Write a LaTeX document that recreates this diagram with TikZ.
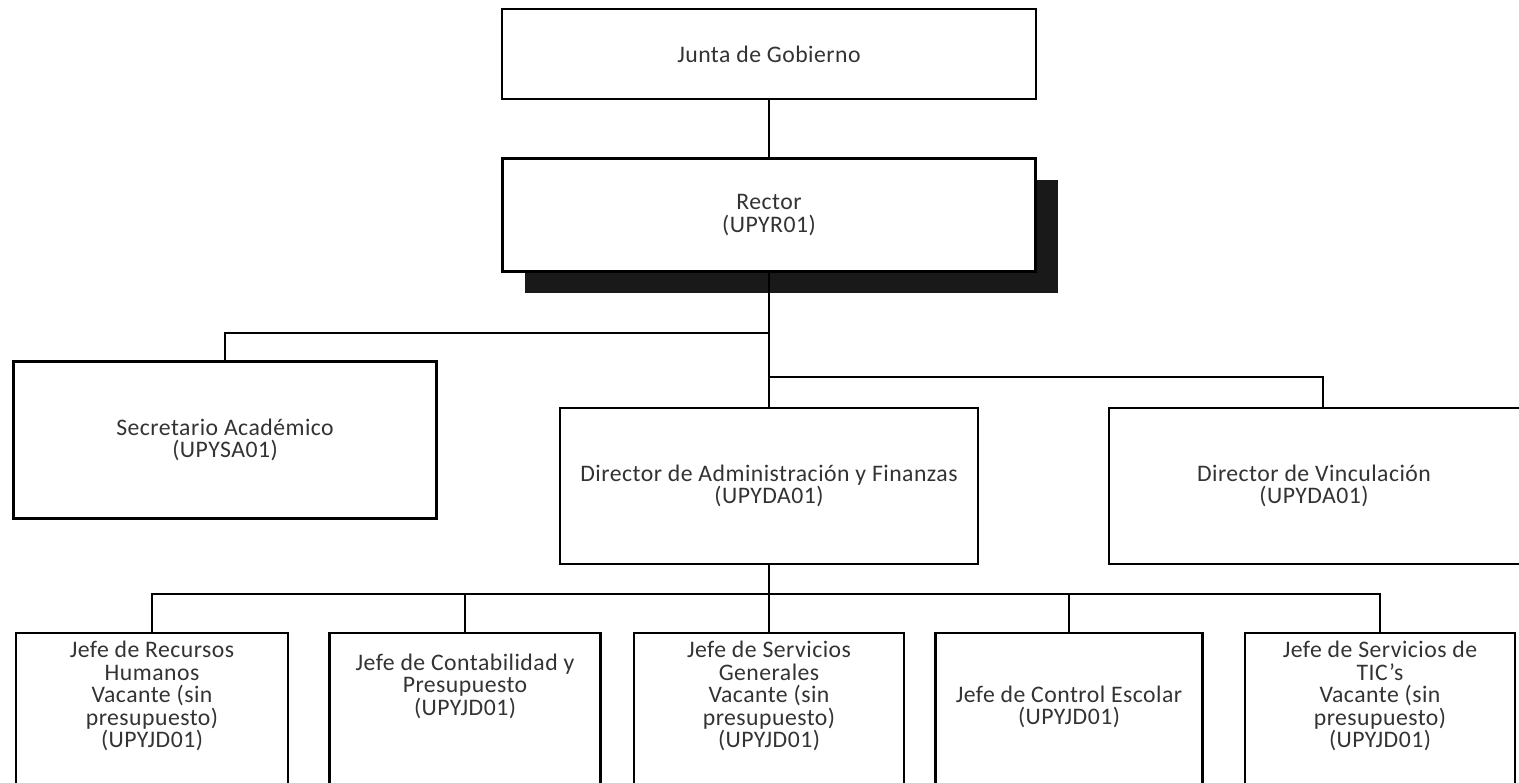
\documentclass[tikz,border=0pt]{standalone}
\usepackage{fontspec}
\setmainfont{Carlito}[LetterSpace=2]
\usetikzlibrary{positioning, shadows}

\tikzset{
	box/.style={draw, line width=1.3pt, fill=white, text=black!80, align=center, inner sep=0pt, font=\fontsize{13.5}{12.8}\selectfont},
	jefe/.style={box, minimum width=272*0.02cm, minimum height=170*0.02cm, anchor=north},
	txt/.style={text=black!80, align=center, inner sep=0pt, font=\fontsize{13.5}{12.8}\selectfont},
	wire/.style={line width=1.1pt}
}

\begin{document}
\begin{tikzpicture}[x=0.02cm, y=-0.02cm]
	\useasboundingbox (0,0) rectangle (1519,783);
	\clip (0,0) rectangle (1519,783);
	\node[box, minimum width=534*0.02cm, minimum height=90*0.02cm] (junta) at (769,54) {Junta de Gobierno};
	\node[box, minimum width=533*0.02cm, minimum height=113*0.02cm, drop shadow={shadow xshift=0.44cm, shadow yshift=-0.44cm, fill=black!90, opacity=1}] (rector) at (769,215) {Rector\\(UPYR01)};
	\node[box, minimum width=423*0.02cm, minimum height=157*0.02cm] (sec) at (225,440) {Secretario Académico\\(UPYSA01)};
	\node[box, minimum width=418*0.02cm, minimum height=156*0.02cm] (daf) at (769,486) {Director de Administración y Finanzas\\(UPYDA01)};
	\node[box, minimum width=428*0.02cm, minimum height=156*0.02cm] (vin) at (1323,486) {};
	\node[txt] (vintxt) at (1314,486) {Director de Vinculación\\(UPYDA01)};
	\coordinate (b1) at (769,333);
	\coordinate (b2) at (769,377);
	\coordinate (b3) at (769,594);
	\draw[wire] (junta) -- (rector);
	\draw[wire] (rector.south) -- (daf.north);
	\draw[wire] (b1) -| (sec.north);
	\draw[wire] (b2) -| (vin.north);
	% jefes
	\node[jefe] (rh) at (152,632) {};
	\node[txt] (rhtxt) at (152,696) {Jefe de Recursos\\Humanos\\Vacante (sin\\presupuesto)\\(UPYJD01)};
	\node[jefe, minimum width=271*0.02cm] (cont) at (465,632) {};
	\node[txt] (conttxt) at (465,686) {Jefe de Contabilidad y\\Presupuesto\\(UPYJD01)};
	\node[jefe, minimum width=270*0.02cm] (sg) at (769,632) {};
	\node[txt] (sgtxt) at (769,696) {Jefe de Servicios\\Generales\\Vacante (sin\\presupuesto)\\(UPYJD01)};
	\node[jefe, minimum width=267*0.02cm] (ce) at (1069,632) {};
	\node[txt] (cetxt) at (1069,707) {Jefe de Control Escolar\\(UPYJD01)};
	\node[jefe, minimum width=270*0.02cm] (tic) at (1380,632) {};
	\node[txt] (tictxt) at (1380,696) {Jefe de Servicios de\\TIC's\\Vacante (sin\\presupuesto)\\(UPYJD01)};
	\draw[wire] (daf.south) -- (b3);
	\draw[wire] (b3) -| (rh.north);
	\draw[wire] (b3) -| (cont.north);
	\draw[wire] (b3) -- (sg.north);
	\draw[wire] (b3) -| (ce.north);
	\draw[wire] (b3) -| (tic.north);
\end{tikzpicture}
\end{document}
